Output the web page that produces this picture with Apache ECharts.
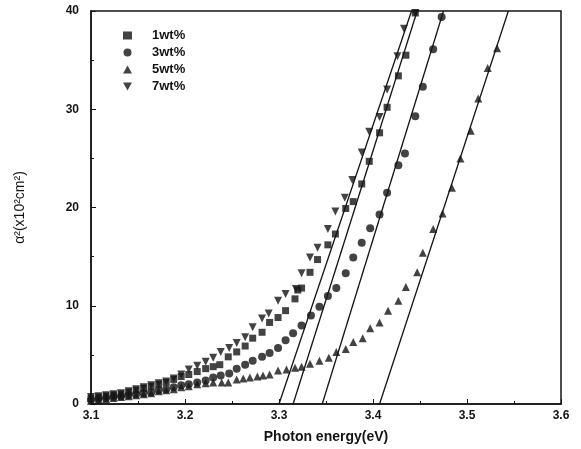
<!DOCTYPE html>
<html>
<head>
<meta charset="utf-8">
<script src="https://cdn.jsdelivr.net/npm/echarts@6/dist/echarts.min.js"></script>
<style>
  html, body { margin: 0; padding: 0; background: #fff; }
  #main { width: 581px; height: 449px; }
</style>
</head>
<body>
<div id="main"></div>
<script>
// 读图得到的数据 (photon energy eV, alpha^2)
var names = ['1wt%', '3wt%', '5wt%', '7wt%'];

var e1 = [3.100, 3.108, 3.116, 3.124, 3.132, 3.140, 3.148, 3.156, 3.164, 3.172, 3.180, 3.188, 3.196, 3.204, 3.213, 3.222,
          3.230, 3.237, 3.246, 3.255, 3.264, 3.272, 3.282, 3.290, 3.299, 3.307, 3.317, 3.320, 3.324, 3.333, 3.341, 3.352,
          3.360, 3.371, 3.379, 3.388, 3.396, 3.407, 3.415, 3.427, 3.435, 3.445];
var a1 = [0.6, 0.7, 0.8, 0.9, 1.0, 1.2, 1.4, 1.6, 1.8, 2.0, 2.2, 2.5, 2.8, 3.0, 3.3, 3.6,
          3.8, 4.0, 4.8, 5.3, 5.9, 6.7, 7.3, 8.3, 8.8, 9.5, 10.7, 11.6, 11.8, 13.4, 14.7, 16.2,
          17.3, 19.9, 20.6, 22.4, 24.7, 27.6, 30.2, 33.4, 35.5, 39.8];

var e3 = [3.100, 3.108, 3.116, 3.124, 3.132, 3.140, 3.148, 3.156, 3.164, 3.172, 3.180, 3.188, 3.196, 3.204, 3.213, 3.222,
          3.230, 3.238, 3.247, 3.255, 3.264, 3.272, 3.282, 3.290, 3.299, 3.307, 3.315, 3.324, 3.334, 3.343, 3.352, 3.361,
          3.371, 3.379, 3.388, 3.397, 3.407, 3.415, 3.427, 3.434, 3.445, 3.453, 3.464, 3.473];
var a3 = [0.4, 0.5, 0.6, 0.7, 0.8, 0.9, 1.0, 1.1, 1.2, 1.4, 1.5, 1.7, 1.9, 2.0, 2.2, 2.4,
          2.7, 2.9, 3.1, 3.6, 4.0, 4.4, 4.8, 5.2, 5.7, 6.5, 7.2, 8.0, 9.0, 9.9, 11.0, 11.8,
          13.3, 14.9, 16.4, 17.9, 19.3, 21.5, 24.3, 25.5, 29.3, 32.3, 36.1, 39.4];

var e5 = [3.100, 3.108, 3.116, 3.124, 3.132, 3.140, 3.148, 3.156, 3.164, 3.172, 3.180, 3.188, 3.196, 3.204, 3.213, 3.222,
          3.230, 3.239, 3.246, 3.255, 3.262, 3.269, 3.277, 3.283, 3.290, 3.299, 3.308, 3.317, 3.324, 3.333, 3.343, 3.353,
          3.361, 3.371, 3.379, 3.389, 3.397, 3.407, 3.416, 3.427, 3.435, 3.447, 3.453, 3.464, 3.474, 3.484, 3.493, 3.504,
          3.512, 3.522, 3.532];
var a5 = [0.3, 0.4, 0.5, 0.6, 0.7, 0.8, 0.9, 1.0, 1.1, 1.3, 1.4, 1.5, 1.7, 1.8, 2.0, 2.1,
          2.2, 2.2, 2.2, 2.5, 2.6, 2.7, 2.8, 2.9, 3.0, 3.4, 3.5, 3.7, 3.8, 4.1, 4.4, 4.7,
          5.3, 5.6, 6.3, 6.7, 7.7, 8.3, 9.5, 10.5, 11.9, 13.4, 15.4, 17.8, 19.4, 22.0, 25.0, 27.8,
          31.1, 34.2, 36.2];

var e7 = [3.100, 3.108, 3.116, 3.124, 3.132, 3.140, 3.148, 3.156, 3.164, 3.172, 3.180, 3.188, 3.196, 3.204, 3.213, 3.222,
          3.230, 3.238, 3.247, 3.255, 3.264, 3.272, 3.282, 3.289, 3.299, 3.307, 3.318, 3.324, 3.333, 3.341, 3.352, 3.360,
          3.370, 3.378, 3.388, 3.396, 3.407, 3.415, 3.426, 3.433, 3.445];
var a7 = [0.7, 0.8, 0.9, 1.0, 1.1, 1.3, 1.5, 1.7, 1.9, 2.1, 2.3, 2.6, 3.0, 3.5, 3.9, 4.3,
          4.7, 5.3, 5.7, 6.2, 6.8, 7.8, 8.7, 9.2, 10.5, 11.2, 11.7, 13.3, 14.9, 15.9, 17.8, 19.6,
          21.0, 22.8, 25.6, 27.7, 29.2, 32.0, 35.4, 38.2, 39.8];

// 线性拟合的两个端点 (alpha^2 = 0 和 40 处的能量)
var fitAlpha = [0, 40];
var fit1 = [3.315, 3.447];
var fit3 = [3.346, 3.475];
var fit5 = [3.407, 3.544];
var fit7 = [3.300, 3.441];

function pairs(xs, ys) {
    return xs.map(function (x, i) { return [x, ys[i]]; });
}

var downTri = 'path://M0,0 L10,0 L5,9 Z';
var symbols = ['rect', 'circle', 'triangle', downTri];
var pointData = [pairs(e1, a1), pairs(e3, a3), pairs(e5, a5), pairs(e7, a7)];
var fits = [fit1, fit3, fit5, fit7];

var ink = '#141414';
var series = [];

names.forEach(function (n, i) {
    series.push({
        name: n,
        type: 'scatter',
        symbol: symbols[i],
        symbolSize: i === 0 ? 7 : 8,
        itemStyle: { color: ink },
        data: pointData[i],
        z: 3
    });
});

fits.forEach(function (f) {
    series.push({
        type: 'line',
        data: pairs(f, fitAlpha),
        showSymbol: false,
        symbol: 'none',
        lineStyle: { color: ink, width: 1.3 },
        silent: true,
        z: 2
    });
});

var myChart = echarts.init(document.getElementById('main'));

var option = {
    backgroundColor: '#fff',
    animation: false,
    grid: {
        left: 91, right: 20, top: 11, bottom: 45,
        show: true,
        borderColor: ink,
        borderWidth: 1.5
    },
    legend: {
        data: names.map(function (n, i) { return { name: n, icon: symbols[i] }; }),
        orient: 'vertical',
        left: 118,
        top: 24,
        itemGap: 4,
        itemWidth: 9,
        itemHeight: 8,
        textStyle: { fontFamily: 'Liberation Sans, Arial', fontWeight: 'bold', fontSize: 13, color: ink, padding: [0, 0, 0, 15] },
        selectedMode: false
    },
    xAxis: {
        type: 'value',
        min: 3.1,
        max: 3.6,
        interval: 0.1,
        name: 'Photon energy(eV)',
        nameLocation: 'middle',
        nameGap: 26,
        nameTextStyle: { fontFamily: 'Liberation Sans, Arial', fontWeight: 'bold', fontSize: 14, color: ink },
        axisLine: { lineStyle: { color: ink, width: 1.5 } },
        axisTick: { inside: true, length: 5, lineStyle: { color: ink } },
        minorTick: { show: true, splitNumber: 2, length: 3, lineStyle: { color: ink } },
        splitLine: { show: false },
        axisLabel: {
            fontFamily: 'Liberation Sans, Arial', fontWeight: 'bold', fontSize: 12, color: ink, margin: 6,
            formatter: function (v) { return v.toFixed(1); }
        }
    },
    yAxis: {
        type: 'value',
        min: 0,
        max: 40,
        interval: 10,
        name: 'α²(x10²cm²)',
        nameLocation: 'middle',
        nameGap: 64,
        nameRotate: 90,
        nameTextStyle: { fontFamily: 'Liberation Sans, Arial', fontSize: 14, color: ink },
        axisLine: { lineStyle: { color: ink, width: 1.5 } },
        axisTick: { inside: true, length: 5, lineStyle: { color: ink } },
        minorTick: { show: true, splitNumber: 2, length: 3, lineStyle: { color: ink } },
        splitLine: { show: false },
        axisLabel: { fontFamily: 'Liberation Sans, Arial', fontWeight: 'bold', fontSize: 12, color: ink, margin: 12 }
    },
    series: series
};

myChart.setOption(option);
</script>
</body>
</html>
